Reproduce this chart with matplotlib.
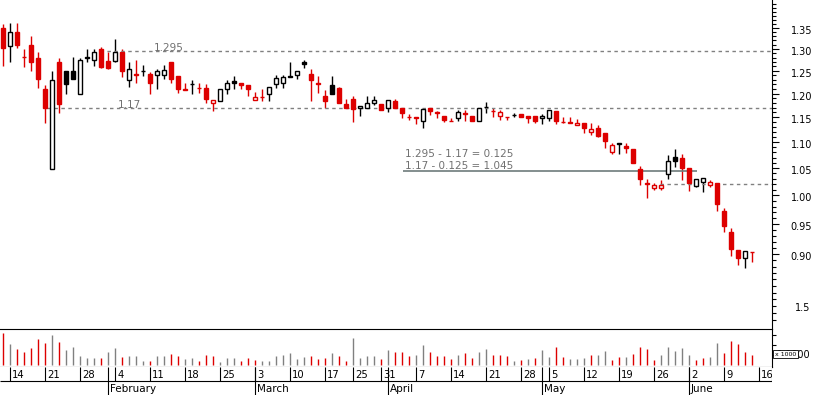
import numpy as np
import matplotlib.pyplot as plt
import matplotlib.transforms as mtransforms
from matplotlib.patches import Rectangle
from matplotlib.ticker import FixedLocator, NullFormatter

# daily OHLC (one entry per trading day)
opens = [1.350, 1.307, 1.341, 1.282, 1.309, 1.279, 1.210, 1.048, 1.270, 1.250,
         1.250, 1.199, 1.280, 1.274, 1.300, 1.272, 1.272, 1.292, 1.229, 1.242,
         1.249, 1.243, 1.241, 1.241, 1.270, 1.239, 1.209, 1.220, 1.213, 1.212,
         1.180, 1.184, 1.210, 1.227, 1.223, 1.219, 1.186, 1.193, 1.199, 1.221,
         1.223, 1.239, 1.241, 1.270, 1.243, 1.222, 1.195, 1.219, 1.212, 1.178,
         1.188, 1.169, 1.169, 1.180, 1.178, 1.169, 1.184, 1.169, 1.151, 1.150,
         1.142, 1.169, 1.160, 1.152, 1.143, 1.148, 1.158, 1.152, 1.142, 1.171,
         1.164, 1.152, 1.151, 1.155, 1.157, 1.152, 1.152, 1.148, 1.148, 1.163,
         1.141, 1.140, 1.134, 1.138, 1.120, 1.128, 1.118, 1.080, 1.096, 1.092,
         1.086, 1.048, 1.023, 1.014, 1.014, 1.038, 1.072, 1.069, 1.050, 1.017,
         1.024, 1.019, 1.023, 0.972, 0.937, 0.907, 0.893, 0.903]
highs = [1.359, 1.362, 1.362, 1.300, 1.331, 1.292, 1.219, 1.250, 1.279, 1.250,
         1.281, 1.279, 1.300, 1.300, 1.304, 1.292, 1.323, 1.300, 1.270, 1.274,
         1.263, 1.248, 1.254, 1.263, 1.270, 1.239, 1.223, 1.229, 1.223, 1.221,
         1.186, 1.210, 1.229, 1.239, 1.223, 1.219, 1.203, 1.210, 1.214, 1.241,
         1.241, 1.270, 1.250, 1.274, 1.254, 1.239, 1.208, 1.239, 1.214, 1.188,
         1.195, 1.173, 1.195, 1.195, 1.178, 1.186, 1.188, 1.169, 1.157, 1.151,
         1.167, 1.169, 1.163, 1.152, 1.148, 1.165, 1.165, 1.152, 1.169, 1.182,
         1.169, 1.165, 1.151, 1.159, 1.157, 1.152, 1.152, 1.157, 1.165, 1.163,
         1.150, 1.150, 1.146, 1.138, 1.138, 1.134, 1.118, 1.098, 1.098, 1.098,
         1.086, 1.054, 1.030, 1.023, 1.028, 1.074, 1.086, 1.076, 1.050, 1.030,
         1.031, 1.028, 1.023, 0.977, 0.943, 0.907, 0.905, 0.903]
lows = [1.261, 1.270, 1.302, 1.258, 1.250, 1.212, 1.138, 1.048, 1.159, 1.199,
        1.231, 1.199, 1.270, 1.261, 1.256, 1.254, 1.270, 1.236, 1.214, 1.223,
        1.239, 1.199, 1.210, 1.231, 1.223, 1.201, 1.208, 1.199, 1.201, 1.180,
        1.163, 1.184, 1.199, 1.210, 1.210, 1.195, 1.186, 1.184, 1.184, 1.212,
        1.212, 1.237, 1.231, 1.256, 1.184, 1.201, 1.169, 1.199, 1.180, 1.169,
        1.140, 1.153, 1.169, 1.176, 1.165, 1.161, 1.169, 1.148, 1.144, 1.136,
        1.128, 1.155, 1.148, 1.140, 1.142, 1.142, 1.142, 1.142, 1.142, 1.159,
        1.150, 1.144, 1.144, 1.150, 1.150, 1.138, 1.138, 1.136, 1.142, 1.136,
        1.138, 1.138, 1.134, 1.118, 1.114, 1.110, 1.088, 1.076, 1.076, 1.078,
        1.059, 1.018, 0.995, 1.010, 1.010, 1.030, 1.052, 1.028, 1.008, 1.015,
        1.006, 1.015, 0.972, 0.937, 0.897, 0.882, 0.878, 0.887]
closes = [1.301, 1.341, 1.309, 1.281, 1.270, 1.231, 1.169, 1.229, 1.178, 1.221,
          1.231, 1.274, 1.282, 1.292, 1.258, 1.256, 1.292, 1.250, 1.254, 1.240,
          1.250, 1.223, 1.250, 1.251, 1.231, 1.210, 1.208, 1.221, 1.212, 1.188,
          1.186, 1.210, 1.223, 1.224, 1.219, 1.210, 1.193, 1.192, 1.214, 1.234,
          1.236, 1.237, 1.250, 1.265, 1.229, 1.221, 1.184, 1.199, 1.180, 1.169,
          1.167, 1.173, 1.180, 1.186, 1.165, 1.186, 1.169, 1.159, 1.150, 1.149,
          1.167, 1.164, 1.159, 1.144, 1.142, 1.161, 1.157, 1.142, 1.169, 1.171,
          1.163, 1.161, 1.150, 1.155, 1.150, 1.149, 1.142, 1.152, 1.165, 1.142,
          1.140, 1.139, 1.138, 1.128, 1.126, 1.112, 1.102, 1.094, 1.098, 1.088,
          1.059, 1.029, 1.021, 1.019, 1.018, 1.063, 1.064, 1.050, 1.023, 1.030,
          1.031, 1.024, 0.985, 0.947, 0.909, 0.894, 0.905, 0.903]

# volume in thousands
volume = [32.3, 20.7, 15.7, 12.7, 16.7, 25.7, 21.7, 29.7, 22.7, 14.7,
          17.7, 8.7, 6.7, 6.7, 6.7, 12.7, 16.7, 7.7, 8.7, 8.7,
          3.7, 3.7, 8.7, 8.7, 10.7, 8.7, 5.7, 6.7, 3.7, 9.7,
          8.7, 2.7, 6.7, 6.7, 3.7, 6.7, 4.7, 3.7, 3.7, 8.7,
          9.7, 11.7, 5.7, 7.7, 8.7, 5.7, 6.7, 11.7, 8.7, 3.7,
          26.7, 6.7, 8.7, 8.7, 5.7, 14.7, 12.7, 12.7, 8.7, 9.7,
          19.7, 12.7, 8.7, 8.7, 5.7, 9.7, 11.7, 6.7, 12.7, 15.7,
          9.7, 9.7, 8.7, 3.7, 4.7, 5.7, 6.7, 14.7, 7.7, 17.7,
          7.7, 5.7, 5.7, 6.7, 9.7, 9.7, 13.7, 4.7, 7.7, 7.7,
          10.7, 17.7, 15.7, 4.7, 9.7, 17.7, 13.7, 16.7, 9.7, 4.7,
          6.7, 7.7, 21.7, 11.7, 23.7, 20.7, 12.7, 9.7]
vol_dir = ("rgrrrrrgrggggg" "rggrgggrggrrggrrrgggrrrgggggggrrrgrrgggg"
           "rgrrrggrrrrgrrggrrrgrgrggrrgggrggrrgrrrrgggggrrggrrrrrrgr")

day_ticks = [1, 6, 11, 16, 21, 26, 31, 36, 41, 46, 50, 54,
             59, 64, 69, 74, 78, 83, 88, 93, 98, 103, 108]
day_labels = ["14", "21", "28", "4", "11", "18", "25", "3", "10", "17", "25", "31",
              "7", "14", "21", "28", "5", "12", "19", "26", "2", "9", "16"]
month_ticks = [15, 36, 55, 77, 98]
month_labels = ["February", "March", "April", "May", "June"]

price_ticks = [0.90, 0.95, 1.00, 1.05, 1.10, 1.15, 1.20, 1.25, 1.30, 1.35]

RED = "#dd0000"
GREY = "#808080"
W, H = 817, 395
x_right = 772

fig = plt.figure(figsize=(W / 100, H / 100), dpi=100)
ax = fig.add_axes([0, 1 - 329 / H, x_right / W, 329 / H])
ax_vol = fig.add_axes([0, 1 - 367 / H, x_right / W, 38 / H])
ax_date = fig.add_axes([0, 0, x_right / W, 28 / H])

xlim = (-3.3 / 7, (x_right - 3.3) / 7)
for a in (ax, ax_vol, ax_date):
    a.set_xlim(*xlim)
    a.set_xticks([])
    for s in a.spines.values():
        s.set_visible(False)

# candles
n = len(closes)
for i in range(n):
    o, h, l, c = opens[i], highs[i], lows[i], closes[i]
    prev = closes[i - 1] if i > 0 else o
    col = RED if c < prev else "black"
    face = col if c < o else "white"
    ax.vlines(i, l, h, color=col, lw=1.0, zorder=2)
    ax.add_patch(Rectangle((i - 0.29, min(o, c)), 0.58, abs(c - o),
                           facecolor=face, edgecolor=col, lw=1.0, zorder=3))

ax.set_yscale("log")
ax.set_ylim(0.787, 1.419)
ax.yaxis.tick_right()
ax.spines["right"].set_visible(True)
ax.spines["right"].set_linewidth(0.8)
ax.set_yticks(price_ticks)
ax.set_yticklabels([f"{p:.2f}" for p in price_ticks])
minor = [round(v, 2) for v in np.arange(0.80, 1.42, 0.01)
         if round(v, 2) not in price_ticks]
ax.yaxis.set_minor_locator(FixedLocator(minor))
ax.yaxis.set_minor_formatter(NullFormatter())
ax.tick_params(axis="y", which="major", length=5, width=0.8, pad=8.5, labelsize=7)
ax.tick_params(axis="y", which="minor", length=3, width=0.8)
shift = mtransforms.ScaledTranslation(0, -2 / 100, fig.dpi_scale_trans)
for lab in ax.get_yticklabels():
    lab.set_transform(lab.get_transform() + shift)

# reference lines
ax.hlines(1.295, 13.8, xlim[1], color=GREY, lw=1.0, linestyles=(0, (2.5, 2.5)))
ax.hlines(1.17, 6.2, xlim[1], color=GREY, lw=1.0, linestyles=(0, (2.5, 2.5)))
ax.hlines(1.02, 93.8, xlim[1], color=GREY, lw=1.0, linestyles=(0, (2.5, 2.5)))
ax.hlines(1.045, 57.1, 99.1, color="#6e7b7b", lw=1.2)
ax.text(21.5, 1.295, "1.295", color="#707070", fontsize=7.5, va="baseline")
ax.text(16.4, 1.17, "1.17", color="#707070", fontsize=7.5, va="baseline")
ax.annotate("1.295 - 1.17 = 0.125", xy=(57.4, 1.045), xytext=(0, 14),
            textcoords="offset pixels", color="#707070", fontsize=7.5, va="baseline")
ax.annotate("1.17 - 0.125 = 1.045", xy=(57.4, 1.045), xytext=(0, 2),
            textcoords="offset pixels", color="#707070", fontsize=7.5, va="baseline")

# volume
vcols = [RED if d == "r" else GREY for d in vol_dir]
ax_vol.vlines(np.arange(n), 0, volume, colors=vcols, lw=1.0)
ax_vol.set_ylim(-2, 36)
ax_vol.yaxis.tick_right()
ax_vol.set_yticks([10, 20, 30])
ax_vol.set_yticklabels([])
ax_vol.tick_params(axis="y", length=3, width=0.8)
for s in ("top", "bottom", "right"):
    ax_vol.spines[s].set_visible(True)
    ax_vol.spines[s].set_linewidth(0.8)

fig.text(795 / W, 1 - 308 / H, "1.5", fontsize=7, va="center")
fig.text(777 / W, 1 - 355 / H, "1.0000", fontsize=7, va="center")
fig.text(775 / W, 1 - 354 / H, "x 1000", fontsize=4.5, va="center",
         bbox=dict(facecolor="white", edgecolor="black", lw=0.6, pad=1.2))

# date axis
ax_date.set_ylim(28, 0)
ax_date.set_yticks([])
ax_date.hlines(14, *xlim, color="black", lw=0.8)
ax_date.vlines(xlim[1] - 0.02, 0, 14, color="black", lw=0.8)
ax_date.vlines(day_ticks, 0, 14, color="black", lw=0.8)
ax_date.vlines(month_ticks, 0, 28, color="black", lw=0.8)
for t, lab in zip(day_ticks, day_labels):
    ax_date.text(t + 2 / 7, 7.5, lab, fontsize=7.2, va="center", ha="left", clip_on=True)
for t, lab in zip(month_ticks, month_labels):
    ax_date.text(t + 1.5 / 7, 21.5, lab, fontsize=7.5, va="center", ha="left")

fig.savefig("out.png", dpi=100)
